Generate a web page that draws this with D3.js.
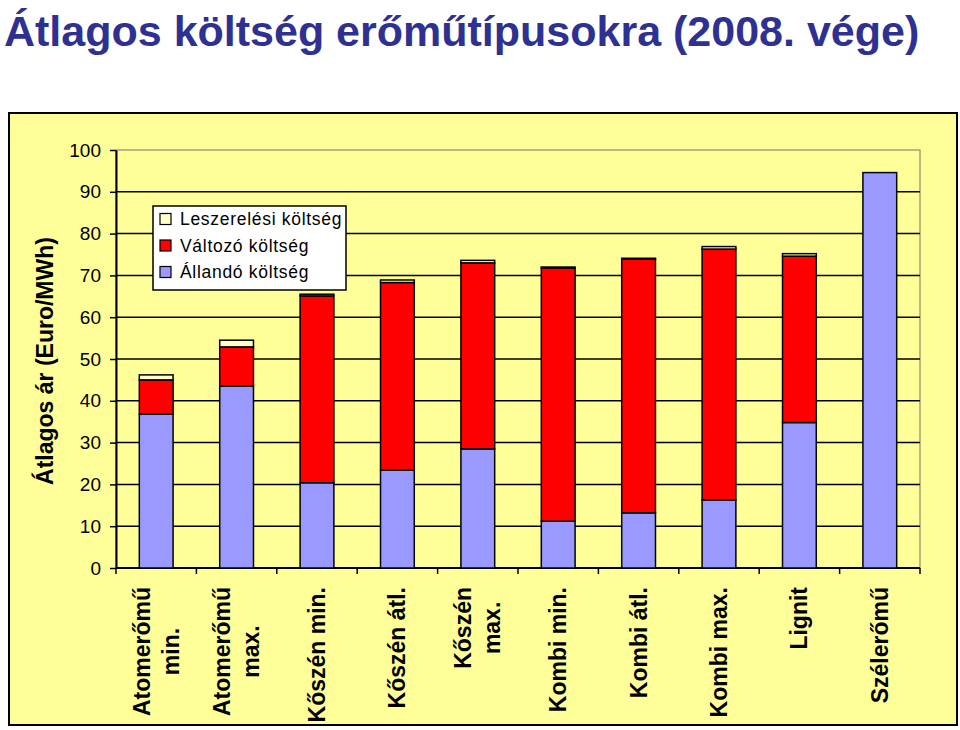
<!DOCTYPE html>
<html>
<head>
<meta charset="utf-8">
<script src="https://cdn.jsdelivr.net/npm/d3@7"></script>
<style>
  html, body { margin: 0; padding: 0; background: #ffffff; }
  svg { display: block; font-family: Arial, "Liberation Sans", sans-serif; }
</style>
</head>
<body>
<svg id="chart" width="960" height="730"></svg>
<script>
// ---- data ----
const categories = [
  ["Atomerőmű", "min."],
  ["Atomerőmű", "max."],
  ["Kőszén min."],
  ["Kőszén átl."],
  ["Kőszén", "max."],
  ["Kombi min."],
  ["Kombi átl."],
  ["Kombi max."],
  ["Lignit"],
  ["Szélerőmű"]
];
const fixedCost   = [36.8, 43.5, 20.4, 23.4, 28.5, 11.2, 13.2, 16.3, 34.8, 94.6];
const variableCost = [8.2, 9.4, 44.7, 44.9, 44.5, 60.6, 60.7, 60.0, 39.8, 0];
const decommCost  = [1.2, 1.6, 0.4, 0.6, 0.6, 0.2, 0.2, 0.6, 0.6, 0];
const seriesNames = ["Leszerelési költség", "Változó költség", "Állandó költség"];
const yTicks = [0, 10, 20, 30, 40, 50, 60, 70, 80, 90, 100];
const title = "Átlagos költség erőműtípusokra (2008. vége)";
const yTitle = "Átlagos ár (Euro/MWh)";

// ---- layout ----
const svg = d3.select("#chart");
const plot = { left: 116, right: 920, top: 150, bottom: 568 };
const colors = { fixed: "#9999FF", variable: "#FF0000", decomm: "#FFFFCC" };
const yellow = "#FFFF99";

// title
svg.append("text")
  .attr("x", 4).attr("y", 46)
  .attr("fill", "#2E3192")
  .attr("font-size", 43).attr("font-weight", "bold")
  .text(title);

// outer chart box
svg.append("rect")
  .attr("x", 9).attr("y", 113).attr("width", 948).attr("height", 612)
  .attr("fill", yellow).attr("stroke", "#000").attr("stroke-width", 2);

// plot area border
svg.append("rect")
  .attr("x", plot.left).attr("y", plot.top)
  .attr("width", plot.right - plot.left).attr("height", plot.bottom - plot.top)
  .attr("fill", yellow).attr("stroke", "#8c8c6a").attr("stroke-width", 1.2);

const idx = d3.range(categories.length);
const x = d3.scaleBand().domain(idx).range([plot.left, plot.right]).paddingInner(0).paddingOuter(0);
const y = d3.scaleLinear().domain([0, 100]).range([plot.bottom, plot.top]);
const barW = x.bandwidth() * 0.42;

// gridlines
svg.append("g").selectAll("line")
  .data(yTicks.filter(t => t > 0 && t < 100))
  .join("line")
  .attr("x1", plot.left).attr("x2", plot.right)
  .attr("y1", d => y(d)).attr("y2", d => y(d))
  .attr("stroke", "#000").attr("stroke-width", 1.5);

// y axis
const yAxis = d3.axisLeft(y).tickValues(yTicks).tickSize(6).tickSizeOuter(0).tickPadding(9);
const gy = svg.append("g").attr("transform", `translate(${plot.left},0)`).call(yAxis);
gy.select(".domain").attr("stroke", "#000").attr("stroke-width", 2);
gy.selectAll(".tick line").attr("stroke", "#000").attr("stroke-width", 1.5);
gy.selectAll(".tick text")
  .attr("font-size", 19).attr("fill", "#000")
  .attr("font-family", "Arial, 'Liberation Sans', sans-serif");

// x axis (ticks at category boundaries)
const boundaries = d3.range(categories.length + 1).map(i => plot.left + i * x.step());
svg.append("line")
  .attr("x1", plot.left).attr("x2", plot.right)
  .attr("y1", plot.bottom).attr("y2", plot.bottom)
  .attr("stroke", "#000").attr("stroke-width", 2);
svg.append("g").selectAll("line").data(boundaries).join("line")
  .attr("x1", d => d).attr("x2", d => d)
  .attr("y1", plot.bottom).attr("y2", plot.bottom + 6)
  .attr("stroke", "#000").attr("stroke-width", 1.5);

// stacked bars
const stackData = idx.map(i => ({ i, fixed: fixedCost[i], variable: variableCost[i], decomm: decommCost[i] }));
const stack = d3.stack().keys(["fixed", "variable", "decomm"]);
const layers = stack(stackData);
const gBars = svg.append("g");
layers.forEach(layer => {
  gBars.append("g").selectAll("rect")
    .data(layer.filter(d => d[1] - d[0] > 0))
    .join("rect")
    .attr("x", d => x(d.data.i) + (x.bandwidth() - barW) / 2)
    .attr("y", d => y(d[1]))
    .attr("width", barW)
    .attr("height", d => y(d[0]) - y(d[1]))
    .attr("fill", colors[layer.key])
    .attr("stroke", "#000").attr("stroke-width", 1.5);
});

// category labels (rotated)
categories.forEach((lines, i) => {
  const cx = x(i) + x.bandwidth() / 2;
  const lineH = 29;
  const g = svg.append("g");
  const texts = lines.map((ln, k) => g.append("text")
    .attr("font-size", 23).attr("font-weight", "bold").attr("fill", "#000")
    .attr("text-anchor", "middle")
    .text(ln));
  const maxLen = d3.max(texts, t => t.node().getComputedTextLength());
  const cy = 587 + maxLen / 2;
  const n = lines.length;
  texts.forEach((t, k) => {
    const off = (k - (n - 1) / 2) * lineH;
    t.attr("transform", `translate(${cx + off + 8},${cy}) rotate(-90)`);
  });
});

// y axis title
svg.append("text")
  .attr("transform", `translate(53,361) rotate(-90)`)
  .attr("text-anchor", "middle")
  .attr("font-size", 23).attr("font-weight", "bold").attr("fill", "#000")
  .text(yTitle);

// legend
const lg = svg.append("g").attr("transform", "translate(153,206)");
lg.append("rect").attr("width", 193).attr("height", 84)
  .attr("fill", "#fff").attr("stroke", "#000").attr("stroke-width", 1.5);
const legendColors = [colors.decomm, colors.variable, colors.fixed];
seriesNames.forEach((name, k) => {
  const ry = 13 + k * 26.5;
  lg.append("rect").attr("x", 7).attr("y", ry - 5.5).attr("width", 11).attr("height", 11)
    .attr("fill", legendColors[k]).attr("stroke", "#000").attr("stroke-width", 1.2);
  lg.append("text").attr("x", 27).attr("y", ry + 6)
    .attr("font-size", 17.5).attr("fill", "#000")
    .attr("letter-spacing", 0.7)
    .text(name);
});
</script>
</body>
</html>
